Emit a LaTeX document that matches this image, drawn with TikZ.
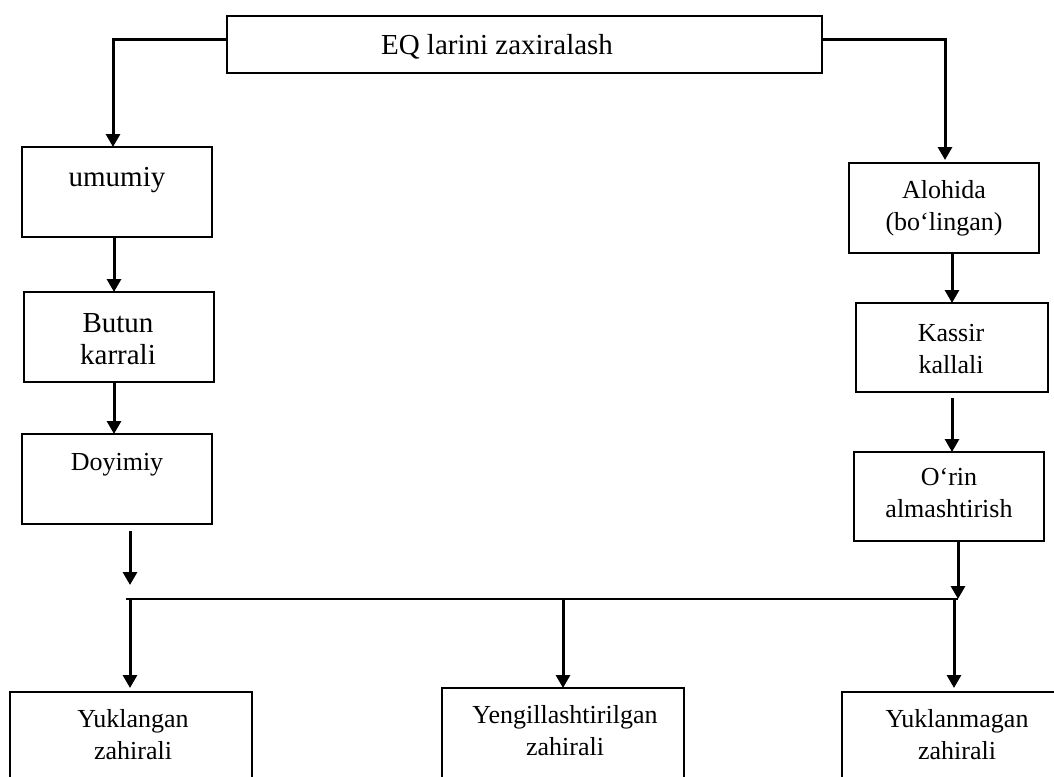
\documentclass[tikz,border=0pt]{standalone}
\usepackage{fontspec}
\setmainfont{Liberation Serif}
\usetikzlibrary{arrows.meta,calc}
\tikzset{
  box/.style={draw, line width=2.4pt, inner sep=0pt, outer sep=0pt},
  conn/.style={line width=3pt, -{Triangle[width=14pt,length=13pt]}},
  busline/.style={line width=2.6pt},
  lbl/.style={align=center, inner sep=0pt, font=\fontsize{26}{32}\selectfont},
  lblbig/.style={lbl, font=\fontsize{29}{32}\selectfont},
}
\begin{document}
\begin{tikzpicture}[x=1pt,y=-1pt]
  \useasboundingbox (0,0) rectangle (1054,776);
  \fill[white] (0,0) rectangle (1054,776);
  \clip (0,0) rectangle (1054,776);

  % boxes
  \node[box, minimum width=595pt, minimum height=57pt] (root) at (524.5,44.5) {};
  \node[box, minimum width=190pt, minimum height=90pt] (umumiy) at (117,192) {};
  \node[box, minimum width=190pt, minimum height=90pt] (butun) at (119,337) {};
  \node[box, minimum width=190pt, minimum height=90pt] (doyimiy) at (117,479) {};
  \node[box, minimum width=190pt, minimum height=90pt] (alohida) at (944,208) {};
  \node[box, minimum width=192pt, minimum height=89pt] (kassir) at (952,347.5) {};
  \node[box, minimum width=190pt, minimum height=89pt] (orin) at (949,496.5) {};
  \node[box, minimum width=242pt, minimum height=120pt] (yuk) at (131,752) {};
  \node[box, minimum width=242pt, minimum height=120pt] (yeng) at (563,748) {};
  \node[box, minimum width=230pt, minimum height=120pt] (yukm) at (957,752) {};

  % texts
  \node[lblbig] (root-t) at (497,48.6) {\strut EQ larini zaxiralash};
  \node[lblbig] (umumiy-t) at (117,179.6) {\strut umumiy};
  \node[lblbig] (butun-t) at (118,341.6) {\strut Butun\\\strut karrali};
  \node[lbl] (doyimiy-t) at (117,463.6) {\strut Doyimiy};
  \node[lbl] (alohida-t) at (944,207.6) {\strut Alohida\\\strut (bo‘lingan)};
  \node[lbl] (kassir-t) at (951,350.6) {\strut Kassir\\\strut kallali};
  \node[lbl] (orin-t) at (949,495) {\strut O‘rin\\\strut almashtirish};
  \node[lbl] (yuk-t) at (133,736.6) {\strut Yuklangan\\\strut zahirali};
  \node[lbl] (yeng-t) at (565,732.6) {\strut Yengillashtirilgan\\\strut zahirali};
  \node[lbl] (yukm-t) at (957,736.6) {\strut Yuklanmagan\\\strut zahirali};

  % branches from the root
  \draw[conn] ([yshift=4.5pt]root.west) -| ([xshift=-4pt]umumiy.north);
  \draw[conn, shorten >=3pt] ([yshift=4.5pt]root.east) -| ([xshift=1pt]alohida.north);

  % left chain
  \draw[conn] ([xshift=-3pt]umumiy.south) -- ([xshift=-3pt]umumiy.south |- butun.north);
  \draw[conn] ([xshift=-5pt]butun.south) -- ([xshift=-5pt]butun.south |- doyimiy.north);
  \coordinate (stub-a) at (130,531);
  \coordinate (stub-b) at (130,585);
  \draw[conn] (stub-a) -- (stub-b);

  % right chain
  \draw[conn] ([xshift=8pt]alohida.south) -- (kassir.north);
  \draw[conn] ([yshift=-6pt]kassir.south) -- (kassir.south |- orin.north);

  % distribution bus
  \coordinate (busL) at (126,599);
  \coordinate (busR) at (958,599);
  \draw[conn] ([xshift=9pt]orin.south) -- (busR);
  \draw[busline] (busL) -- (busR);
  \coordinate (drop1) at (130,599);
  \coordinate (drop2) at (563,599);
  \coordinate (drop3) at (954,599);
  \draw[conn, shorten >=4pt] (drop1) -- (drop1 |- yuk.north);
  \draw[conn] (drop2) -- (yeng.north);
  \draw[conn, shorten >=4pt] (drop3) -- (drop3 |- yukm.north);
\end{tikzpicture}
\end{document}
